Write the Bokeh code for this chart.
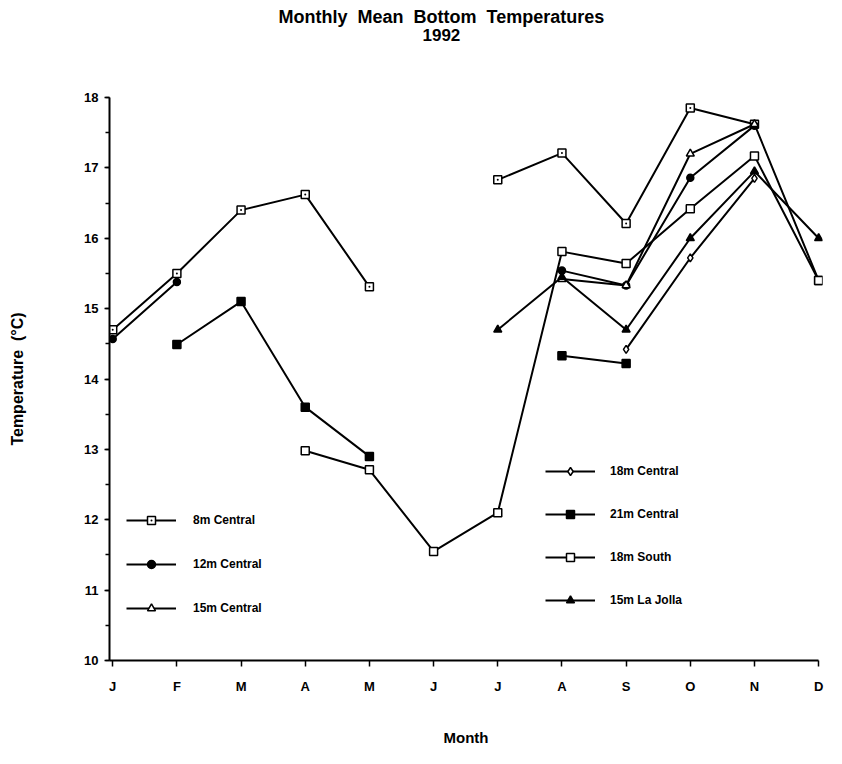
import math
from bokeh.plotting import figure
from bokeh.models import (Legend, LegendItem, FixedTicker, SingleIntervalTicker,
                          Range1d, Title)
from bokeh.embed import file_html
from bokeh.resources import INLINE

nan = float("nan")

months = ["J", "F", "M", "A", "M", "J", "J", "A", "S", "O", "N", "D"]
month_idx = list(range(12))

c8m = [14.70, 15.50, 16.40, 16.62, 15.31, nan, 16.83, 17.21, 16.21, 17.85, 17.62, 15.40]
c12m = [14.57, 15.38, nan, nan, nan, nan, nan, 15.54, 15.33, 16.86, 17.60, nan]
c15m = [nan, nan, nan, nan, nan, nan, nan, 15.42, 15.33, 17.20, 17.62, nan]
c18m = [nan, nan, nan, nan, nan, nan, nan, nan, 14.42, 15.72, 16.85, nan]
c21m = [nan, 14.49, 15.10, 13.60, 12.90, nan, nan, 14.33, 14.22, nan, nan, nan]
s18m = [nan, nan, nan, 12.98, 12.71, 11.55, 12.10, 15.81, 15.64, 16.42, 17.17, 15.40]
lj15m = [nan, nan, nan, nan, nan, nan, 14.70, 15.45, 14.70, 16.00, 16.95, 16.00]

FONT = "Liberation Sans"
NB = "\u00a0"

p = figure(width=826, height=748, output_backend="svg", toolbar_location=None,
           x_range=Range1d(-0.05, 11.06), y_range=Range1d(10, 18),
           min_border_left=109, min_border_right=4, min_border_top=97,
           min_border_bottom=88)
p.outline_line_color = None
p.xgrid.grid_line_color = None
p.ygrid.grid_line_color = None
p.background_fill_color = "white"
p.title.visible = False

t_space = Title(text=NB, align="left", text_font=FONT, text_font_size="10px",
                text_color="white", standoff=44)
t_sub = Title(text="1992", align="left", text_font=FONT, text_font_size="17px",
              text_font_style="bold", text_color="black", standoff=0, offset=313)
t_main = Title(text="Monthly" + NB + " Mean" + NB + " Bottom" + NB + " Temperatures",
               align="left", text_font=FONT, text_font_size="18px",
               text_font_style="bold", text_color="black", standoff=0, offset=169)
p.add_layout(t_space, "above")
p.add_layout(t_sub, "above")
p.add_layout(t_main, "above")

# axes
xa = p.xaxis[0]
xa.ticker = FixedTicker(ticks=month_idx)
xa.major_label_overrides = {i: m for i, m in enumerate(months)}
xa.bounds = (-0.05, 11)
xa.axis_line_width = 2
xa.major_tick_out = 6
xa.major_tick_in = 0
xa.major_tick_line_width = 1.5
xa.minor_tick_line_color = None
xa.major_label_standoff = 12
xa.major_label_text_font = FONT
xa.major_label_text_font_size = "13px"
xa.major_label_text_font_style = "bold"
xa.major_label_text_color = "black"
xa.axis_label = "Month"
xa.axis_label_text_font = FONT
xa.axis_label_text_font_size = "15px"
xa.axis_label_text_font_style = "bold"
xa.axis_label_text_color = "black"
xa.axis_label_standoff = 32

ya = p.yaxis[0]
ya.ticker = SingleIntervalTicker(interval=1, num_minor_ticks=2)
ya.axis_line_width = 2
ya.major_tick_out = 5
ya.major_tick_in = 0
ya.minor_tick_out = 4
ya.minor_tick_in = 0
ya.major_tick_line_width = 1.5
ya.minor_tick_line_width = 1.5
ya.major_label_standoff = 6
ya.major_label_text_font = FONT
ya.major_label_text_font_size = "13px"
ya.major_label_text_font_style = "bold"
ya.major_label_text_color = "black"
ya.axis_label = "Temperature" + NB + " (\u00b0C)"
ya.axis_label_text_font = FONT
ya.axis_label_text_font_size = "16px"
ya.axis_label_text_font_style = "bold"
ya.axis_label_text_color = "black"
ya.axis_label_standoff = 55


def series(vals, marker, size, fill):
    ln = p.line(month_idx, vals, line_color="black", line_width=2)
    sc = p.scatter(month_idx, vals, marker=marker, size=size,
                   line_color="black", fill_color=fill, line_width=1.5)
    return [ln, sc]


r8 = series(c8m, "square_dot", 8, "white")
r12 = series(c12m, "circle", 7, "black")
r15 = series(c15m, "triangle", 8, "white")
r18 = series(c18m, "diamond", 8, "white")
r21 = series(c21m, "square", 8, "black")
rs18 = series(s18m, "square", 8, "white")
rlj = series(lj15m, "triangle", 8, "black")

common = dict(border_line_color=None, background_fill_alpha=0,
              label_text_font=FONT, label_text_font_size="12px",
              label_text_font_style="bold", label_text_color="black",
              glyph_width=50, glyph_height=20,
              label_height=20, padding=0, margin=0)

leg1 = Legend(items=[LegendItem(label="8m Central", renderers=r8),
                     LegendItem(label="12m Central", renderers=r12),
                     LegendItem(label="15m Central", renderers=r15)],
              location=(17, 42), spacing=24, label_standoff=17, **common)
leg2 = Legend(items=[LegendItem(label="18m Central", renderers=r18),
                     LegendItem(label="21m Central", renderers=r21),
                     LegendItem(label="18m South", renderers=rs18),
                     LegendItem(label="15m La Jolla", renderers=rlj)],
              location=(436, 50), spacing=23, label_standoff=15, **common)
p.add_layout(leg1)
p.add_layout(leg2)

open("out.html", "w").write(file_html(p, INLINE))
